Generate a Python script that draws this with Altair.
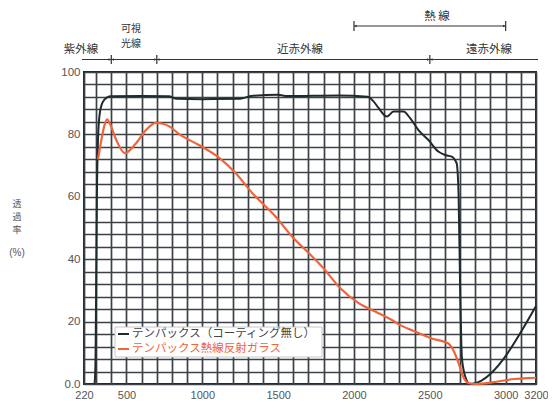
import altair as alt
import pandas as pd

# ---------------- data ----------------
black_wl = [290, 296, 300, 305, 312, 322, 340, 370, 400, 600, 780, 830, 1000, 1250,
            1320, 1500, 1560, 1900, 2090, 2130, 2163, 2217, 2261, 2327, 2370, 2425,
            2491, 2556, 2600, 2644, 2677, 2690, 2700, 2712, 2740, 2765, 3200]
black_val = [0, 8, 30, 60, 78, 86, 90, 91.8, 92.2, 92.3, 92.2, 91.4, 91.3, 91.4,
             92.3, 92.7, 92.3, 92.5, 92.1, 90.5, 88.4, 85.7, 87.3, 87.3, 85.2, 81.4,
             78.2, 74.5, 73.4, 72.9, 70.7, 60, 30, 8, 1.5, 0, 25]

orange_wl = [312, 330, 350, 372, 390, 430, 489, 560, 630, 695, 740, 784, 850, 981,
             1112, 1222, 1331, 1484, 1593, 1703, 1790, 1900, 2031, 2162, 2250, 2293,
             2403, 2512, 2622, 2654, 2687, 2720, 2753, 2797, 2862, 2950, 3059, 3146, 3200]
orange_val = [72, 77, 82, 84.8, 83.5, 78.5, 74, 77, 81.5, 83.7, 83.4, 82.5, 80, 76.5,
              72.5, 67.5, 61.1, 53.6, 47.2, 41.9, 37.6, 31.2, 25.9, 22.7, 20.5, 19.2,
              16.8, 14.6, 13.0, 10.9, 7.1, 2.3, 0.3, 0, 0.2, 0.8, 1.6, 1.9, 2.0]

series_names = ["テンパックス（コーティング無し）", "テンパックス熱線反射ガラス"]
series_colors = ["#1f2a2e", "#f0643a"]

x_grid = [220] + list(range(300, 3200, 100)) + [3200]
x_tick_labels = [220, 500, 1000, 1500, 2000, 2500, 3000, 3200]
y_grid = list(range(0, 101, 4))
y_tick_labels = [0, 20, 40, 60, 80, 100]

band_bounds = [400, 700, 2500]
heat_range = [2000, 3000]

JP = "Noto Sans CJK JP"
GRID = "#3b4146"

# ---------------- scales / axes ----------------
xscale = alt.Scale(domain=[220, 3200], nice=False, zero=False)
yscale = alt.Scale(domain=[0, 100], nice=False)

xaxis = alt.Axis(
    values=x_grid, title=None, ticks=False, domain=False,
    grid=True, gridColor=GRID, gridWidth=1.7, gridOpacity=1,
    labelExpr=f"indexof({x_tick_labels}, datum.value) >= 0 ? format(datum.value, 'd') : ''",
    labelFont="Liberation Sans", labelFontSize=11, labelColor="#555",
    labelPadding=5, labelOverlap=False, labelFlush=False,
)
yaxis = alt.Axis(
    values=y_grid, title=None, ticks=False, domain=False,
    grid=True, gridColor=GRID, gridWidth=1.7, gridOpacity=1,
    labelExpr=f"datum.value == 0 ? '0.0' : (indexof({y_tick_labels}, datum.value) >= 0 ? format(datum.value, 'd') : '')",
    labelFont="Liberation Sans", labelFontSize=11.5, labelColor="#555",
    labelPadding=4, labelOverlap=False, labelFlush=False,
)

black_df = pd.DataFrame({"wl": black_wl, "val": black_val})
orange_df = pd.DataFrame({"wl": orange_wl, "val": orange_val})
bounds_df = pd.DataFrame({"wl": band_bounds})
dummy = pd.DataFrame({"d": [0]})


def xy(fx="wl:Q", fy="val:Q"):
    return dict(
        x=alt.X(fx, scale=xscale, axis=xaxis),
        y=alt.Y(fy, scale=yscale, axis=yaxis),
    )


black_line = alt.Chart(black_df).mark_line(
    color=series_colors[0], strokeWidth=2, interpolate="monotone"
).encode(**xy())

orange_line = alt.Chart(orange_df).mark_line(
    color=series_colors[1], strokeWidth=2.2, interpolate="monotone"
).encode(**xy())

# ---------------- legend (inside plot) ----------------
legend_box = alt.Chart(dummy).mark_rect(fill="white", stroke="#c8c8c8", strokeWidth=1).encode(
    x=alt.value(31), x2=alt.value(238), y=alt.value(255), y2=alt.value(285)
)
legend_layers = [legend_box]
for i, (name, col) in enumerate(zip(series_names, series_colors)):
    yy = 262 + i * 15
    legend_layers.append(
        alt.Chart(dummy).mark_rule(color=col, strokeWidth=2).encode(
            x=alt.value(34), x2=alt.value(45), y=alt.value(yy)
        )
    )
    legend_layers.append(
        alt.Chart(dummy).mark_text(
            align="left", baseline="middle", font=JP, fontSize=11.5,
            color=("#444" if i == 0 else col)
        ).encode(x=alt.value(48), y=alt.value(yy), text=alt.value(name))
    )

# ---------------- region annotations above plot ----------------
ANN = "#333"
band_line = alt.Chart(dummy).mark_rule(color=ANN, strokeWidth=1).encode(
    x=alt.value(-2), x2=alt.value(454), y=alt.value(-12.5)
)
band_ticks = alt.Chart(bounds_df).mark_rule(color=ANN, strokeWidth=1.2).encode(
    x=alt.X("wl:Q", scale=xscale, axis=xaxis), y=alt.value(-17), y2=alt.value(-8)
)
band_arrows = alt.Chart(bounds_df).mark_point(
    shape="M -1 -0.45 L 0 0 L -1 0.45 Z M 1 -0.45 L 0 0 L 1 0.45 Z",
    filled=True, color=ANN, size=30, opacity=1
).encode(x=alt.X("wl:Q", scale=xscale, axis=xaxis), y=alt.value(-12.5))

heat_line = alt.Chart(dummy).mark_rule(color=ANN, strokeWidth=1).encode(
    x=alt.X(datum=heat_range[0], scale=xscale, axis=xaxis),
    x2=alt.X2(datum=heat_range[1]),
    y=alt.value(-46),
)
heat_ends = alt.Chart(pd.DataFrame({"wl": heat_range})).mark_rule(color=ANN, strokeWidth=1.2).encode(
    x=alt.X("wl:Q", scale=xscale, axis=xaxis), y=alt.value(-51), y2=alt.value(-41)
)
heat_arrow_l = alt.Chart(dummy).mark_point(
    shape="M 0 0 L 1 -0.45 L 1 0.45 Z", filled=True, color=ANN, size=30, opacity=1
).encode(x=alt.X(datum=heat_range[0], scale=xscale, axis=xaxis), y=alt.value(-46))
heat_arrow_r = alt.Chart(dummy).mark_point(
    shape="M 0 0 L -1 -0.45 L -1 0.45 Z", filled=True, color=ANN, size=30, opacity=1
).encode(x=alt.X(datum=heat_range[1], scale=xscale, axis=xaxis), y=alt.value(-46))


def label(txt, px, py, size=11.5, color=ANN, font=JP):
    return alt.Chart(dummy).mark_text(
        font=font, fontSize=size, color=color, align="center", baseline="middle"
    ).encode(x=alt.value(px), y=alt.value(py), text=alt.value(txt))


texts = [
    label("紫外線", -3, -22),
    label("可視", 47, -43, size=10),
    label("光線", 47, -28, size=10),
    label("近赤外線", 216, -22),
    label("遠赤外線", 405, -22),
    label("熱 線", 353, -55),
    label("透", -67, 132, size=9, color="#555"),
    label("過", -67, 145, size=9, color="#555"),
    label("率", -67, 158, size=9, color="#555"),
    label("(%)", -67, 181, size=10, color="#555", font="Liberation Sans"),
]

chart = alt.layer(
    black_line, orange_line, *legend_layers,
    band_line, band_ticks, band_arrows,
    heat_line, heat_ends, heat_arrow_l, heat_arrow_r,
    *texts,
).properties(
    width=452, height=312,
    autosize=alt.AutoSizeParams(type="none"),
    padding={"left": 76, "top": 64, "right": 12, "bottom": 18},
).configure(background="white").configure_view(stroke="#222", strokeWidth=2)

chart.save("out.html", embed_options={"renderer": "svg", "actions": False})
